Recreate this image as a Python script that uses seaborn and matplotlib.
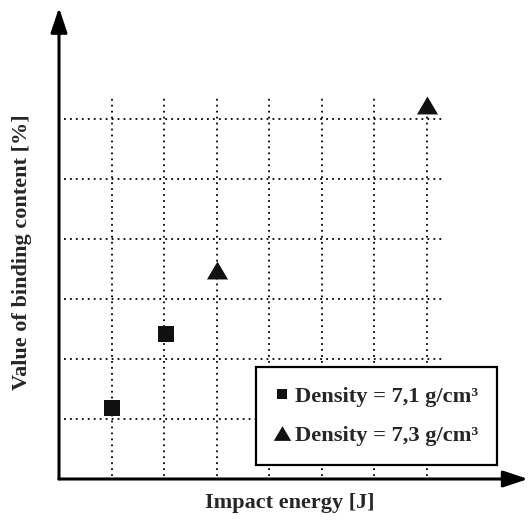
import matplotlib
matplotlib.use("Agg")
import matplotlib.pyplot as plt
import seaborn as sns
import pandas as pd
import numpy as np

# ---- data (grid units) ----
series_labels = ["Density = 7,1 g/cm³", "Density = 7,3 g/cm³"]
sq_x = [1.0, 2.03]
sq_y = [1.18, 2.42]
tri_x = [3.0, 7.0]
tri_y = [3.48, 6.24]
x_grid = [1, 2, 3, 4, 5, 6, 7]
y_grid = [1, 2, 3, 4, 5, 6]
x_label = "Impact energy [J]"
y_label = "Value of binding content [%]"

df = pd.DataFrame({
    "x": sq_x + tri_x,
    "y": sq_y + tri_y,
    "series": [series_labels[0]] * len(sq_x) + [series_labels[1]] * len(tri_x),
})

sns.set_theme(style="white")
plt.rcParams["font.family"] = ["Liberation Serif", "DejaVu Serif"]

W, H = 529, 521
fig = plt.figure(figsize=(W / 100, H / 100), dpi=100)
L, R, T, B = 59, 528, 10, 479
ax = fig.add_axes([L / W, 1 - B / H, (R - L) / W, (B - T) / H])
ax.set_xlim(0, (R - L) / 52.5)
ax.set_ylim(0, (B - T) / 60.0)
for s in ax.spines.values():
    s.set_visible(False)
ax.set_xticks([])
ax.set_yticks([])
ax.patch.set_alpha(0)

dot = (0, (1, 2.3))
ax.hlines(y_grid, 0.1, 7.3, colors="black", linestyles=dot, lw=1.3, zorder=1)
ax.vlines(x_grid, 0.05, 6.37, colors="black", linestyles=dot, lw=1.3, zorder=1)

tri = [(0, 0.85), (-1, -0.85), (1, -0.85), (0, 0.85)]
sns.scatterplot(data=df[df.series == series_labels[0]], x="x", y="y", marker="s",
                s=120, color="#111111", edgecolor="#111111", linewidth=0, ax=ax,
                zorder=3, legend=False)
sns.scatterplot(data=df[df.series == series_labels[1]], x="x", y="y", marker=tri,
                s=230, color="#111111", edgecolor="#111111", linewidth=0, ax=ax,
                zorder=3, legend=False)

# axes with arrows
ap = dict(arrowstyle="-|>,head_length=0.75,head_width=0.25", lw=2.2, color="black",
          shrinkA=0, shrinkB=0, mutation_scale=20)
ax.annotate("", xy=(1, 0), xytext=(0, 0), xycoords="axes fraction",
            textcoords="axes fraction", arrowprops=ap, annotation_clip=False)
ax.annotate("", xy=(0, 1.005), xytext=(0, 0), xycoords="axes fraction",
            textcoords="axes fraction", arrowprops=ap, annotation_clip=False)

# legend
from matplotlib.lines import Line2D
handles = [
    Line2D([], [], ls="none", marker="s", ms=7.5, color="#111111", mew=0),
    Line2D([], [], ls="none", marker=tri, ms=12.5, color="#111111", mew=0),
]
leg = ax.legend(handles, series_labels, loc="lower right",
                bbox_to_anchor=(497 / W, 1 - 465 / H), bbox_transform=fig.transFigure,
                frameon=True, fancybox=False, borderpad=0.85, labelspacing=0.82,
                handletextpad=0.25, handlelength=0.6, borderaxespad=0,
                prop=dict(family="Liberation Serif", weight="bold", size=16.2))
fr = leg.get_frame()
fr.set_edgecolor("black")
fr.set_linewidth(1.6)
fr.set_facecolor("white")
fr.set_alpha(1)
leg.set_zorder(5)

fig.text(290 / W, 1 - 503 / H, x_label, ha="center", va="center",
         fontsize=16, fontweight="bold", family="Liberation Serif")
fig.text(22 / W, 1 - 252 / H, y_label, ha="center", va="center", rotation=90,
         fontsize=16, fontweight="bold", family="Liberation Serif")

fig.savefig("out.png", dpi=100, facecolor="white")
